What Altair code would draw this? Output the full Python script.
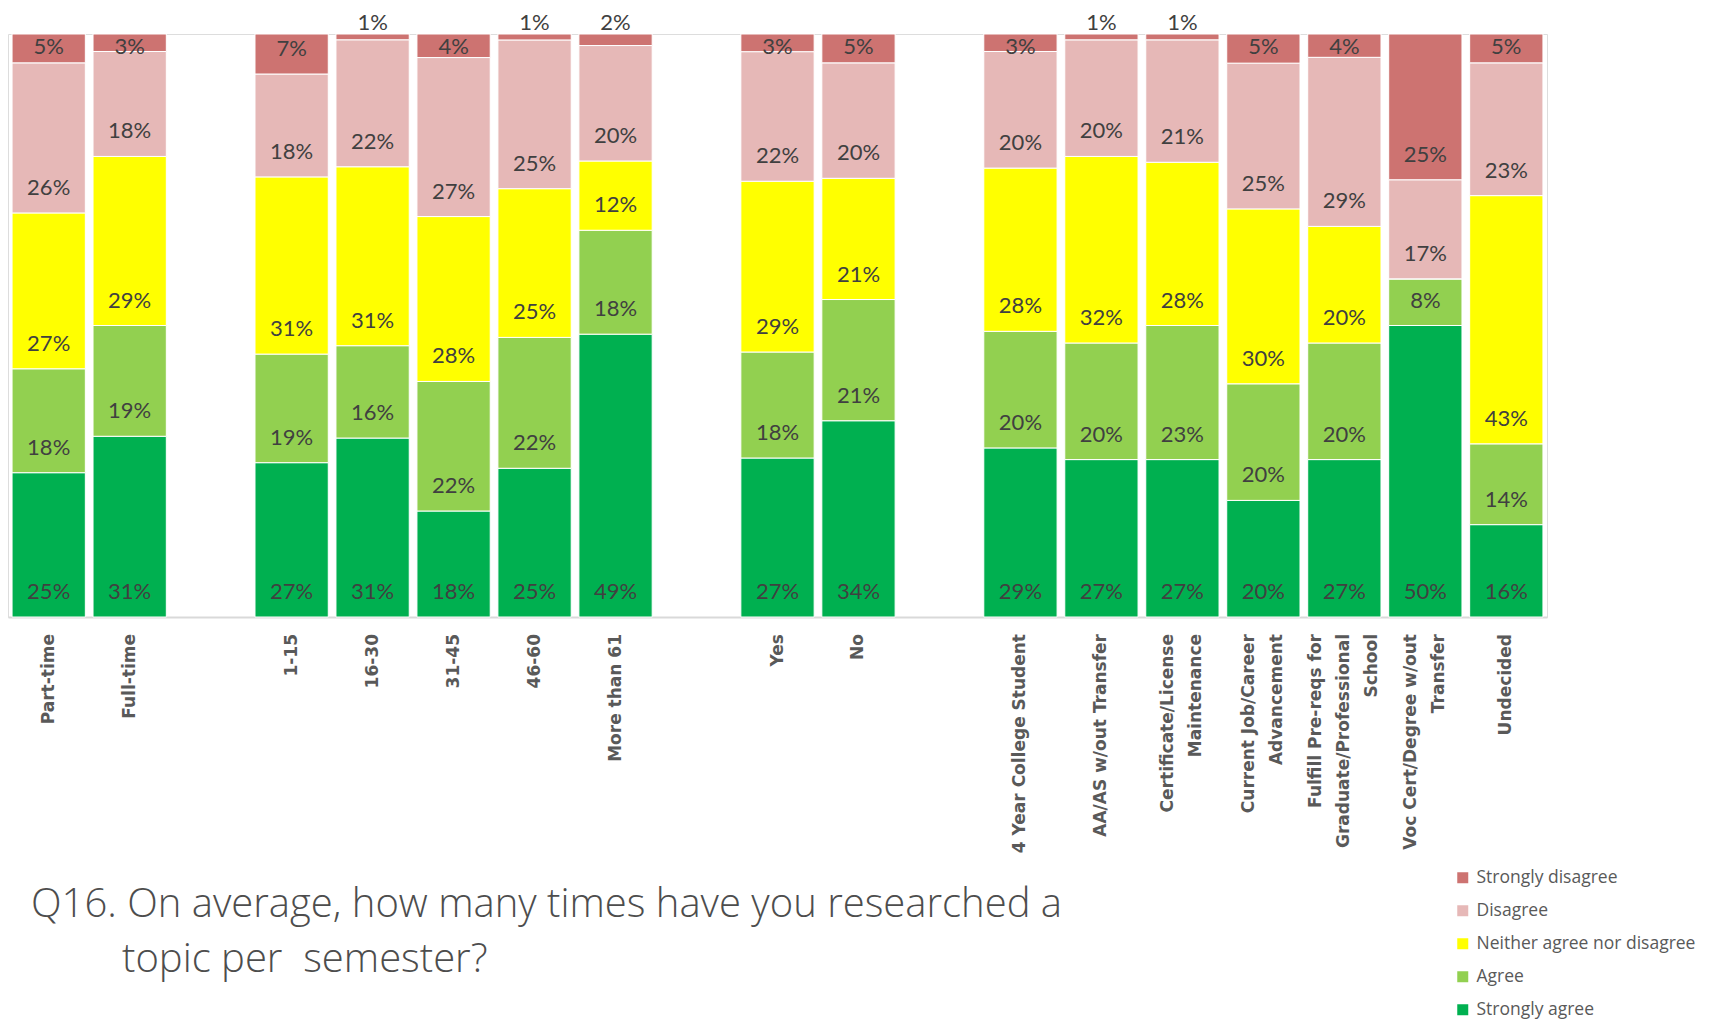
import altair as alt
import pandas as pd

# Slots along the x axis (gap entries are the empty slots between groups)
categories = [
    "Part-time", "Full-time", "gap1",
    "1-15", "16-30", "31-45", "46-60", "More than 61", "gap2",
    "Yes", "No", "gap3",
    "4 Year College Student", "AA/AS w/out Transfer",
    "Certificate/License\nMaintenance", "Current Job/Career\nAdvancement",
    "Fulfill Pre-reqs for\nGraduate/Professional\nSchool",
    "Voc Cert/Degree w/out\nTransfer", "Undecided",
]
bar_categories = [c for c in categories if not c.startswith("gap")]

responses = ["Strongly agree", "Agree", "Neither agree nor disagree",
             "Disagree", "Strongly disagree"]

strongly_agree    = [25, 31, 27, 31, 18, 25, 49, 27, 34, 29, 27, 27, 20, 27, 50, 16]
agree             = [18, 19, 19, 16, 22, 22, 18, 18, 21, 20, 20, 23, 20, 20, 8, 14]
neither           = [27, 29, 31, 31, 28, 25, 12, 29, 21, 28, 32, 28, 30, 20, 0, 43]
disagree          = [26, 18, 18, 22, 27, 25, 20, 22, 20, 20, 20, 21, 25, 29, 17, 23]
strongly_disagree = [5, 3, 7, 1, 4, 1, 2, 3, 5, 3, 1, 1, 5, 4, 25, 5]

colors = {
    "Strongly agree": "#00B050",
    "Agree": "#92D050",
    "Neither agree nor disagree": "#FFFF00",
    "Disagree": "#E6B8B7",
    "Strongly disagree": "#CD7371",
}

title_line1 = "Q16. On average, how many times have you researched a"
title_line2 = "topic per\u00a0 semester?"

series = [strongly_agree, agree, neither, disagree, strongly_disagree]
rows = []
for order, (resp, vals) in enumerate(zip(responses, series)):
    for cat, v in zip(bar_categories, vals):
        rows.append({"category": cat, "response": resp, "value": v, "order": order})
df = pd.DataFrame(rows)

cat_df = pd.DataFrame({"category": bar_categories})
cat_df["lines"] = cat_df["category"].str.count("\n") + 1

legend_order = responses[::-1]
legend_colors = [colors[r] for r in legend_order]

PLOT_W, PLOT_H = 1539, 583
label_font = "Lato"
label_color = "#404040"

xscale = alt.Scale(domain=categories, paddingInner=0.095, paddingOuter=0.05)
xenc = alt.X(
    "category:N", scale=xscale,
    axis=alt.Axis(title=None, ticks=False, labels=False,
                  domainColor="#d9d9d9", domainWidth=2),
)
yscale = alt.Scale(domain=[0, 1], nice=False, zero=True)

# labels sit just inside the base of each segment, kept inside the plot top
base = alt.Chart(df).transform_stack(
    stack="value", as_=["y0", "y1"], groupby=["category"],
    sort=[alt.SortField("order", order="ascending")], offset="normalize"
).transform_calculate(
    ylab=f"min(datum.y0 + 25/{PLOT_H}, 1 - 13/{PLOT_H})",
    label="datum.value + '%'"
)

bars = base.mark_bar(stroke="white", strokeWidth=1).encode(
    x=xenc,
    y=alt.Y("y0:Q", scale=yscale, axis=None),
    y2="y1:Q",
    color=alt.Color(
        "response:N",
        scale=alt.Scale(domain=legend_order, range=legend_colors),
        legend=alt.Legend(
            title=None, orient="none", legendX=1446, legendY=835,
            symbolType="square", symbolSize=121, symbolStrokeWidth=0,
            labelFont="Open Sans", labelFontSize=17.5, labelColor="#595959",
            rowPadding=14, labelOffset=5, labelLimit=0,
        ),
    ),
    order=alt.Order("order:Q"),
)

text_kw = dict(font=label_font, fontSize=22, color=label_color, baseline="middle")

t_inside = base.transform_filter(
    "datum.value > 2 || (datum.response != 'Strongly disagree' && datum.value > 0)"
).mark_text(**text_kw).encode(
    x=xenc, y=alt.Y("ylab:Q", scale=yscale), text="label:N"
)

t_above = base.transform_filter(
    "datum.response == 'Strongly disagree' && datum.value <= 2"
).mark_text(dy=-11, **text_kw).encode(
    x=xenc, y=alt.Y("y1:Q", scale=yscale), text="label:N"
)

# category labels below the axis, multi-line blocks centred on their bar
lab_kw = dict(font="DejaVu Sans", fontWeight="bold", fontSize=17, color="#595959",
              angle=270, align="right", baseline="middle", lineBreak="\n",
              lineHeight=28, dx=-17)
cat_base = alt.Chart(cat_df)
cat_layers = []
for n in (1, 2, 3):
    cat_layers.append(
        cat_base.transform_filter(f"datum.lines == {n}").mark_text(
            dy=-(n - 1) * 14, **lab_kw
        ).encode(x=alt.X("category:N", scale=xscale), y=alt.YDatum(0, scale=yscale),
                 text="category:N")
    )

title_kw = dict(font="Open Sans", fontWeight=300, fontSize=40, color="#4d4d4d",
                align="left", baseline="alphabetic")
title1 = alt.Chart(pd.DataFrame({"t": [title_line1]})).mark_text(**title_kw).encode(
    x=alt.value(23), y=alt.value(883), text="t:N")
title2 = alt.Chart(pd.DataFrame({"t": [title_line2]})).mark_text(**title_kw).encode(
    x=alt.value(114), y=alt.value(938), text="t:N")

chart = alt.layer(bars, t_inside, t_above, *cat_layers, title1, title2).properties(
    width=PLOT_W, height=PLOT_H,
    autosize=alt.AutoSizeParams(type="none"),
    padding={"left": 0, "top": 26, "right": 160, "bottom": 404},
).configure_view(stroke=None).configure(background="white")

chart.save("out.html", embed_options={"renderer": "svg", "actions": False})
